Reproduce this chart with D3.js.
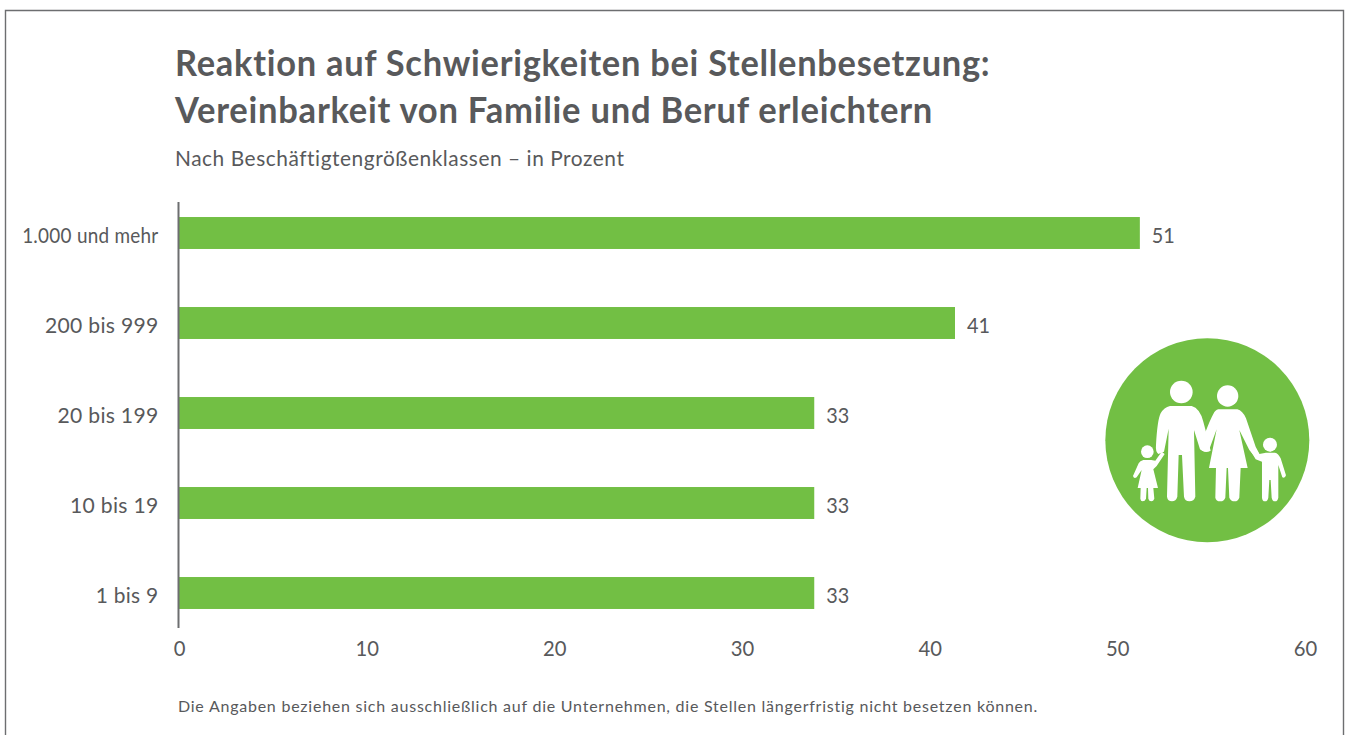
<!DOCTYPE html>
<html><head><meta charset="utf-8">
<script src="https://cdn.jsdelivr.net/npm/d3@7"></script>
<style>html,body{margin:0;padding:0;background:#fff;overflow:hidden}svg{display:block}text{font-family:Lato,sans-serif}</style>
</head><body><svg id="c" width="1349" height="735"></svg>
<script>
const categories = ["1.000 und mehr","200 bis 999","20 bis 199","10 bis 19","1 bis 9"];
const barValues = [51.2,41.35,33.85,33.85,33.85];
const valueLabels = ["51","41","33","33","33"];
const xTicks = [0,10,20,30,40,50,60];
const titleLines = ["Reaktion auf Schwierigkeiten bei Stellenbesetzung:","Vereinbarkeit von Familie und Beruf erleichtern"];
const subtitle = "Nach Beschäftigtengrößenklassen – in Prozent";
const footnote = "Die Angaben beziehen sich ausschließlich auf die Unternehmen, die Stellen längerfristig nicht besetzen können.";
const GREEN="#72bf44", TXT="#58595b";
const squeeze=(sel,f)=>sel.each(function(d,i){const k=typeof f==="function"?f(d,i):f;
  d3.select(this).attr("textLength",this.getComputedTextLength()*k).attr("lengthAdjust","spacingAndGlyphs");});
const svg=d3.select("#c");
svg.append("path").attr("d","M5.5,735V10.5H1343.5V735").attr("fill","none").attr("stroke","#6d6e70").attr("stroke-width",1.4);
svg.selectAll(".t").data(titleLines).join("text").attr("x",175).attr("y",(d,i)=>76+i*47)
 .attr("font-size",35.5).attr("font-weight",700).attr("fill",TXT).attr("letter-spacing",0.75).text(d=>d).call(squeeze,(d,i)=>i?0.974:0.97);
svg.append("text").attr("x",175).attr("y",166).attr("font-size",21.5).attr("fill",TXT).attr("letter-spacing",0.55).text(subtitle).call(squeeze,0.972);
svg.append("text").attr("x",178).attr("y",712).attr("font-size",16).attr("fill",TXT).attr("letter-spacing",0.76).text(footnote);
const x=d3.scaleLinear().domain([0,60]).range([179,1305]);
const y=d3.scaleBand().domain(categories).range([188,638]).paddingInner(0.645).paddingOuter(0.3225);
svg.selectAll(".b").data(categories).join("rect").attr("x",x(0)).attr("y",d=>y(d)).attr("height",y.bandwidth())
 .attr("width",(d,i)=>x(barValues[i])-x(0)).attr("fill",GREEN);
svg.append("line").attr("x1",178.5).attr("x2",178.5).attr("y1",202).attr("y2",628).attr("stroke","#6d6e70").attr("stroke-width",2);
svg.selectAll(".c").data(categories).join("text").attr("x",158.5).attr("y",d=>y(d)+y.bandwidth()/2+9.5).attr("text-anchor","end")
 .attr("font-size",22).attr("fill",TXT).attr("letter-spacing",0.3).text(d=>d).call(squeeze,(d,i)=>[0.86,0.96,0.96,0.96,0.95][i]);
svg.selectAll(".v").data(categories).join("text").attr("x",(d,i)=>x(barValues[i])+12).attr("y",d=>y(d)+y.bandwidth()/2+10)
 .attr("font-size",22).attr("fill",TXT).text((d,i)=>valueLabels[i]).call(squeeze,0.9);
const axis=d3.axisBottom(x).tickValues(xTicks).tickSize(0).tickPadding(0);
const ag=svg.append("g").attr("transform","translate(0,656)").call(axis);
ag.select(".domain").remove();
ag.selectAll("text").attr("font-size",22).attr("fill",TXT).attr("font-family","Lato,sans-serif").attr("dy",0).call(squeeze,0.92);
// family icon, drawn in zoom-crop coordinates
const ic=svg.append("g").attr("transform","translate(1090,330) scale(0.3333)");
ic.append("circle").attr("cx",352).attr("cy",331).attr("r",306).attr("fill",GREEN);
const W="#fff";
[[274,186,34],[413,198,32],[172,365,19],[540,344,21]].forEach(c=>ic.append("circle").attr("cx",c[0]).attr("cy",c[1]).attr("r",c[2]).attr("fill",W));
[
 "M240,228 L305,228 Q330,235 340,275 L348,305 L362,362 Q345,372 330,358 L312,300 L316,500 Q312,514 298,514 Q285,514 282,500 L276,375 L266,375 L262,500 Q258,514 246,514 Q233,514 231,500 L236,296 L222,365 L205,372 Q196,365 198,345 Q202,270 212,250 Q222,232 240,228 Z",
 "M385,238 L442,238 Q458,242 468,265 L497,350 L510,375 L498,385 L478,360 L448,300 L473,414 L452,414 L448,503 Q444,514 434,514 Q422,514 418,503 L414,414 L410,414 L406,503 Q402,514 391,514 Q378,514 376,503 L378,414 L357,414 L380,298 L358,358 Q345,372 332,358 L345,310 Q360,270 370,252 Q376,240 385,238 Z",
 "M160,390 L184,390 L196,392 L215,365 L224,372 L200,408 L190,418 L204,474 L190,474 L193,506 Q190,514 184,514 Q177,514 175,506 L174,474 L170,474 L168,506 Q165,514 158,514 Q152,514 151,506 L152,474 L143,474 L155,420 L140,442 Q132,448 129,438 L146,400 Q150,392 160,390 Z",
 "M528,368 L555,368 Q565,370 572,385 L588,436 Q585,446 577,442 L565,405 L565,503 Q563,514 555,514 Q547,514 545,503 L542,450 L538,450 L535,503 Q533,514 525,514 Q517,514 516,503 L516,395 L497,388 L482,362 L494,352 L508,372 Z"
].forEach(d=>ic.append("path").attr("d",d).attr("fill",W));
</script></body></html>
